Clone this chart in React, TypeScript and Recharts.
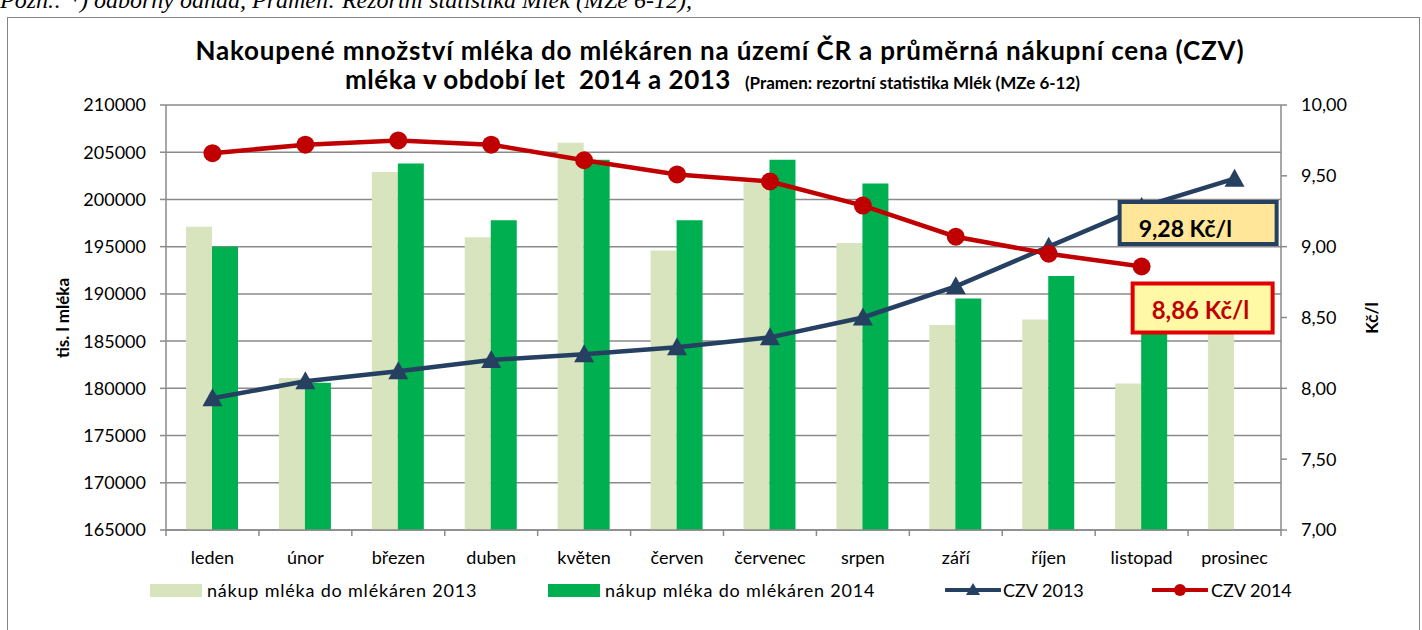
import React from "react";
import {
  ComposedChart,
  Bar,
  Line,
  XAxis,
  YAxis,
  CartesianGrid,
  Legend,
  LabelList,
} from "recharts";

const months = ["leden", "únor", "březen", "duben", "květen", "červen", "červenec", "srpen", "září", "říjen", "listopad", "prosinec"];
const nakup2013 = [197100, 181100, 202900, 196000, 206000, 194600, 201800, 195400, 186700, 187300, 180500, 186000];
const nakup2014 = [195000, 180600, 203800, 197800, 204200, 197800, 204200, 201700, 189500, 191900, 187500, null];
const czv2013 = [7.93, 8.05, 8.12, 8.2, 8.24, 8.29, 8.36, 8.5, 8.72, 9.0, 9.28, 9.48];
const czv2014 = [9.66, 9.72, 9.75, 9.72, 9.61, 9.51, 9.46, 9.29, 9.07, 8.95, 8.86, null];
const leftTicks = [165000, 170000, 175000, 180000, 185000, 190000, 195000, 200000, 205000, 210000];
const rightTicks = [7, 7.5, 8, 8.5, 9, 9.5, 10];

const data = months.map((m, i) => ({
  month: m,
  n2013: nakup2013[i],
  n2014: nakup2014[i],
  c2013: czv2013[i],
  c2014: czv2014[i],
}));

const FONT = "Lato, 'Noto Sans', sans-serif";
const GRID = "#8a8a8a";
const LIGHT = "#D7E4BD";
const GREEN = "#00B050";
const NAVY = "#254061";
const RED = "#C00000";
const X_TICK_SIZE = 6;
const X_TICK_MARGIN = 2;

const fmtComma = (v: number) => v.toFixed(2).replace(".", ",");

function MonthTick(props: any) {
  const { x, y, payload, index, visibleTicksCount } = props;
  const half = payload && payload.offset ? payload.offset : 46.46;
  const axisY = y - X_TICK_SIZE - X_TICK_MARGIN;
  return (
    <g>
      <line x1={x - half} x2={x - half} y1={axisY} y2={axisY + 6} stroke={GRID} strokeWidth={1.5} />
      {index === visibleTicksCount - 1 && (
        <line x1={x + half} x2={x + half} y1={axisY} y2={axisY + 6} stroke={GRID} strokeWidth={1.5} />
      )}
      <text x={x} y={axisY + 34} textAnchor="middle" fontSize={18} fill="#000" fontFamily={FONT}>
        {payload.value}
      </text>
    </g>
  );
}

function Triangle(props: any) {
  const { cx, cy } = props;
  if (cx == null || cy == null) return null;
  return <polygon points={`${cx},${cy - 10} ${cx - 10},${cy + 8} ${cx + 10},${cy + 8}`} fill={NAVY} />;
}

function Circle(props: any) {
  const { cx, cy, value } = props;
  if (cx == null || cy == null || value == null) return null;
  return <circle cx={cx} cy={cy} r={9} fill={RED} />;
}

// callout boxes on the listopad points
function Box2013(props: any) {
  const { x, y, index, value } = props;
  if (index !== 10) return null;
  return (
    <g>
      <rect x={x - 22} y={y - 5} width={157} height={42} fill="#FFE699" stroke={NAVY} strokeWidth={4} />
      <text x={x - 3} y={y + 30} fontSize={23} fontWeight={700} fill="#000" fontFamily={FONT}>
        {fmtComma(value)} Kč/l
      </text>
    </g>
  );
}

function Box2014(props: any) {
  const { x, y, index, value } = props;
  if (index !== 10) return null;
  return (
    <g>
      <rect x={x - 9} y={y + 17} width={140} height={49} fill="#FFF9A6" stroke="#E00000" strokeWidth={4} />
      <text x={x + 10} y={y + 52} fontSize={24} fontWeight={700} fill={RED} fontFamily={FONT}>
        {fmtComma(value)} Kč/l
      </text>
    </g>
  );
}

function LegendContent() {
  const txt = { fontSize: 18, fontFamily: FONT, color: "#000", marginLeft: 5, whiteSpace: "nowrap" as const };
  const wide = { ...txt, letterSpacing: 0.8 };
  return (
    <div style={{ display: "flex", alignItems: "center", paddingLeft: 150 }}>
      <div style={{ display: "flex", alignItems: "center", width: 398 }}>
        <div style={{ width: 52, height: 13, background: LIGHT }} />
        <span style={wide}>nákup mléka do mlékáren 2013</span>
      </div>
      <div style={{ display: "flex", alignItems: "center", width: 397 }}>
        <div style={{ width: 52, height: 13, background: GREEN }} />
        <span style={wide}>nákup mléka do mlékáren 2014</span>
      </div>
      <div style={{ display: "flex", alignItems: "center", width: 207 }}>
        <svg width={56} height={20}>
          <line x1={1} x2={55} y1={10} y2={10} stroke={NAVY} strokeWidth={4} strokeLinecap="round" />
          <polygon points="28,3 21,15 35,15" fill={NAVY} />
        </svg>
        <span style={{ ...txt, marginLeft: 2 }}>CZV 2013</span>
      </div>
      <div style={{ display: "flex", alignItems: "center" }}>
        <svg width={56} height={20}>
          <line x1={1} x2={55} y1={10} y2={10} stroke={RED} strokeWidth={4} strokeLinecap="round" />
          <circle cx={28} cy={10} r={6} fill={RED} />
        </svg>
        <span style={{ ...txt, marginLeft: 3 }}>CZV 2014</span>
      </div>
    </div>
  );
}

export default function App() {
  return (
    <div style={{ position: "absolute", left: 0, top: 0, width: 1422, height: 630, overflow: "hidden", background: "#fff", fontFamily: FONT }}>
      <div style={{ position: "absolute", left: 0, top: -12, fontFamily: "'Liberation Serif', serif", fontStyle: "italic", fontSize: 24, lineHeight: "24px", whiteSpace: "nowrap" }}>
        Pozn.: *) odborný odhad, Pramen: Rezortní statistika Mlék (MZe 6-12),
      </div>
      <div style={{ position: "absolute", left: 7, top: 17, width: 1411, height: 640, border: "1.5px solid #858585" }} />

      <div style={{ position: "absolute", left: 0, top: 35, width: 1440, textAlign: "center", fontSize: 26, letterSpacing: 0.8, fontWeight: 700, lineHeight: "30px", whiteSpace: "nowrap" }}>
        Nakoupené množství mléka do mlékáren na území ČR a průměrná nákupní cena (CZV)
      </div>
      <div style={{ position: "absolute", left: 0, top: 64, width: 1425, textAlign: "center", fontSize: 26, letterSpacing: 0.5, fontWeight: 700, lineHeight: "30px", whiteSpace: "pre" }}>
        {"mléka v období let  2014 a 2013"}
        <span style={{ fontSize: 17, letterSpacing: 0, marginLeft: 14 }}>(Pramen: rezortní statistika Mlék (MZe 6-12)</span>
      </div>

      <div style={{ position: "absolute", left: 62, top: 318, transform: "translate(-50%, -50%) rotate(-90deg)", fontSize: 17, fontWeight: 700, whiteSpace: "nowrap" }}>
        tis. l mléka
      </div>
      <div style={{ position: "absolute", left: 1371, top: 318, transform: "translate(-50%, -50%) rotate(-90deg)", fontSize: 17, fontWeight: 700, whiteSpace: "nowrap" }}>
        Kč/l
      </div>

      <div style={{ position: "absolute", left: 0, top: 0 }}>
        <ComposedChart
          width={1422}
          height={630}
          data={data}
          margin={{ top: 105, right: 61, bottom: 70, left: 86 }}
          barGap={0}
          barCategoryGap={20}
        >
          <CartesianGrid yAxisId="left" vertical={false} stroke={GRID} strokeWidth={1.5} />
          <XAxis
            dataKey="month"
            yAxisId="left"
            height={30}
            tickSize={X_TICK_SIZE}
            tickMargin={X_TICK_MARGIN}
            tickLine={false}
            axisLine={{ stroke: GRID, strokeWidth: 1.5 }}
            tick={<MonthTick />}
            interval={0}
          />
          <YAxis
            yAxisId="left"
            width={80}
            domain={[165000, 210000]}
            ticks={leftTicks}
            interval={0}
            tickSize={6}
            tickMargin={14}
            axisLine={{ stroke: GRID, strokeWidth: 1.5 }}
            tickLine={{ stroke: GRID, strokeWidth: 1.5 }}
            tick={{ fontSize: 18, fill: "#000", fontFamily: FONT }}
            allowDataOverflow
          />
          <YAxis
            yAxisId="right"
            orientation="right"
            width={80}
            domain={[7, 10]}
            ticks={rightTicks}
            interval={0}
            tickSize={6}
            tickMargin={14}
            axisLine={{ stroke: GRID, strokeWidth: 1.5 }}
            tickLine={{ stroke: GRID, strokeWidth: 1.5 }}
            tick={{ fontSize: 18, fill: "#000", fontFamily: FONT }}
            tickFormatter={fmtComma}
          />
          <Bar yAxisId="left" dataKey="n2013" fill={LIGHT} isAnimationActive={false} />
          <Bar yAxisId="left" dataKey="n2014" fill={GREEN} isAnimationActive={false} />
          <Line
            yAxisId="right"
            dataKey="c2013"
            stroke={NAVY}
            strokeWidth={4.5}
            dot={<Triangle />}
            activeDot={false}
            isAnimationActive={false}
          >
            <LabelList dataKey="c2013" content={<Box2013 />} />
          </Line>
          <Line
            yAxisId="right"
            dataKey="c2014"
            stroke={RED}
            strokeWidth={4.5}
            dot={<Circle />}
            activeDot={false}
            isAnimationActive={false}
          >
            <LabelList dataKey="c2014" content={<Box2014 />} />
          </Line>
          <Legend
            verticalAlign="middle"
            layout="horizontal"
            wrapperStyle={{ top: 579, left: 0, width: 1422 }}
            content={<LegendContent />}
          />
        </ComposedChart>
      </div>
    </div>
  );
}
